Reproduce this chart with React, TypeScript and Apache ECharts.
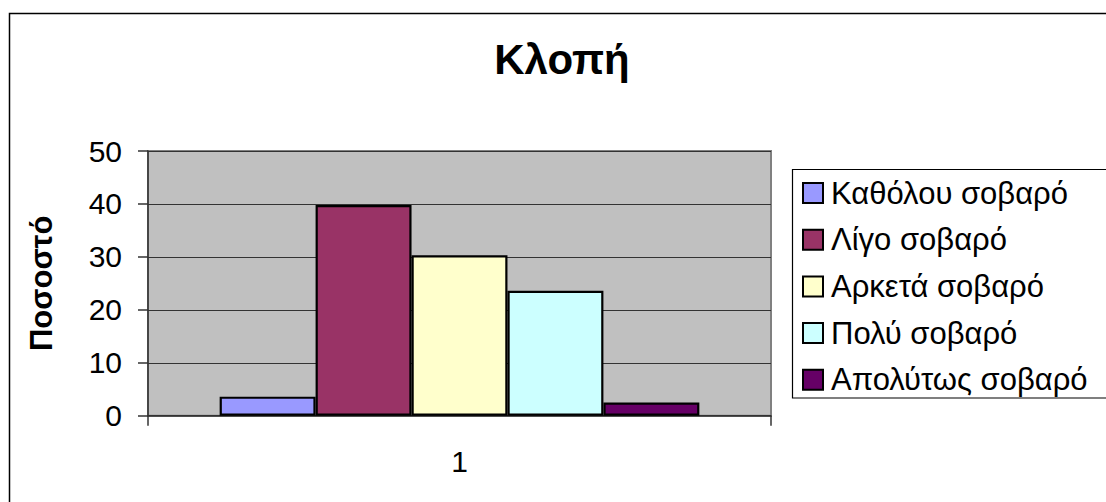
import React, { useEffect, useRef } from "react";
import * as echarts from "echarts";

const categories = ["1"];
const seriesNames = ["Καθόλου σοβαρό", "Λίγο σοβαρό", "Αρκετά σοβαρό", "Πολύ σοβαρό", "Απολύτως σοβαρό"];
const seriesValues = [3.6, 39.8, 30.3, 23.6, 2.5];
const seriesColors = ["#9999FF", "#993366", "#FFFFCC", "#CCFFFF", "#660066"];
const titleText = "Κλοπή";
const yAxisName = "Ποσοστό";

const FONT = "'Liberation Sans', Arial, sans-serif";

export default function App() {
  const ref = useRef<HTMLDivElement>(null);
  useEffect(() => {
    if (!ref.current) return;
    const chart = echarts.init(ref.current, null, { renderer: "svg" });
    const series = seriesNames.map((name, i) => ({
      name,
      type: "bar",
      data: [seriesValues[i]],
      barGap: "0%",
      barCategoryGap: "23%",
      itemStyle: { color: seriesColors[i], borderColor: "#000", borderWidth: 2.2 },
    }));
    chart.setOption({
      animation: false,
      backgroundColor: "#fff",
      textStyle: { fontFamily: FONT },
      title: {
        text: titleText,
        left: 562,
        top: 38,
        textAlign: "center",
        padding: 0,
        textStyle: { fontSize: 42, fontWeight: "bold", color: "#000", fontFamily: FONT, lineHeight: 42 },
      },
      graphic: [
        {
          type: "rect",
          shape: { x: 9.5, y: 13.5, width: 1200, height: 600 },
          style: { fill: "none", stroke: "#000", lineWidth: 1.5 },
          z: 100,
          silent: true,
        },
        {
          type: "rect",
          shape: { x: 792.5, y: 169.5, width: 330, height: 228.5 },
          style: { fill: "#fff", stroke: "#000", lineWidth: 1.2 },
          z: 1,
          silent: true,
        },
      ],
      legend: {
        orient: "vertical",
        left: 802,
        top: 177.5,
        padding: 0,
        itemGap: 15.7,
        itemWidth: 20,
        itemHeight: 20,
        icon: "rect",
        z: 10,
        itemStyle: { borderColor: "#000", borderWidth: 2 },
        textStyle: {
          fontSize: 31,
          color: "#000",
          fontFamily: FONT,
          lineHeight: 31,
          padding: [0, 0, 0, 3],
        },
        data: seriesNames,
      },
      grid: {
        left: 148,
        top: 151,
        right: 335,
        bottom: 86.3,
        show: true,
        backgroundColor: "#C0C0C0",
        borderColor: "#808080",
        borderWidth: 2,
      },
      xAxis: {
        type: "category",
        data: categories,
        axisLine: { show: true, lineStyle: { color: "#333", width: 1.5 } },
        axisTick: { show: true, length: 10, lineStyle: { color: "#333", width: 1.5 } },
        axisLabel: { fontSize: 30, color: "#000", margin: 31, fontFamily: FONT },
      },
      yAxis: {
        type: "value",
        min: 0,
        max: 50,
        interval: 10,
        name: yAxisName,
        nameLocation: "middle",
        nameRotate: 90,
        nameGap: 91,
        nameTextStyle: { fontSize: 31, fontWeight: "bold", color: "#000", fontFamily: FONT },
        axisLine: { show: true, lineStyle: { color: "#333", width: 1.5 } },
        axisTick: { show: true, length: 10, lineStyle: { color: "#333", width: 1.5 } },
        axisLabel: { fontSize: 30, color: "#000", margin: 26, fontFamily: FONT },
        splitLine: { show: true, lineStyle: { color: "#333", width: 1 } },
      },
      series,
    });
    return () => chart.dispose();
  }, []);
  return (
    <div
      ref={ref}
      style={{ position: "fixed", left: 0, top: 0, width: 1106, height: 502 }}
    />
  );
}
